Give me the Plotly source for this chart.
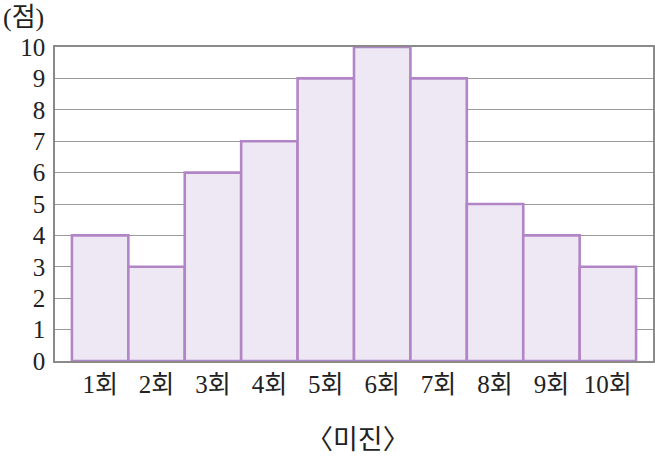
import plotly.graph_objects as go

rounds = ["1회", "2회", "3회", "4회", "5회", "6회", "7회", "8회", "9회", "10회"]
scores = [4, 3, 6, 7, 9, 10, 9, 5, 4, 3]
y_ticks = list(range(0, 11))

FONT = "Liberation Serif, Noto Sans CJK KR, serif"
xs = list(range(1, len(rounds) + 1))

fig = go.Figure(go.Bar(
    x=xs, y=scores, width=1,
    marker=dict(color="#EEE8F4", line=dict(color="#B286C6", width=2.6)),
))

fig.update_layout(
    width=655, height=456,
    margin=dict(l=55, r=2, t=47, b=95, autoexpand=False),
    plot_bgcolor="white", paper_bgcolor="white",
    showlegend=False,
    font=dict(family=FONT, size=24, color="#222"),
    annotations=[
        dict(text="(점)", x=0, y=1, xref="paper", yref="paper",
             xshift=-54, yshift=30, xanchor="left", yanchor="middle",
             showarrow=False, font=dict(size=26, family=FONT)),
        dict(text="〈미진〉", x=0.507, y=0, xref="paper", yref="paper",
             yshift=-76, xanchor="center", yanchor="middle",
             showarrow=False, font=dict(size=27, family="Noto Sans CJK KR")),
    ],
)
fig.update_xaxes(
    range=[0.2, 10.8], tickmode="array", tickvals=xs, ticktext=rounds,
    showgrid=False, showline=True, linecolor="#8a8a8a", linewidth=1.5, mirror=True,
    ticks="", ticklabelstandoff=0, tickfont=dict(size=25, family=FONT),
    automargin=False,
)
fig.update_yaxes(
    range=[0, 10], tickmode="array", tickvals=y_ticks,
    showgrid=True, gridcolor="#9a9a9a", gridwidth=1,
    showline=True, linecolor="#8a8a8a", linewidth=1.5, mirror=True,
    ticks="", ticklabelstandoff=3, zeroline=False,
    tickfont=dict(size=25, family=FONT), automargin=False,
)

fig.write_html(
    "out.html",
    config={"displayModeBar": False},
    post_script="document.body.style.margin='0';document.body.style.overflow='hidden';",
)
